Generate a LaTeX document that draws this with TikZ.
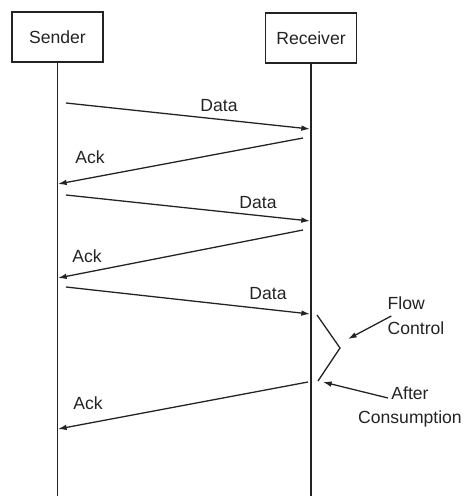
\documentclass[tikz,border=0pt]{standalone}
\usepackage{fontspec}
\setmainfont{Liberation Sans}
\usetikzlibrary{arrows.meta,positioning}
\definecolor{ink}{RGB}{35,35,35}
\tikzset{
  >={Latex[length=2.6mm,width=1.7mm]},
  actor/.style={draw=ink,line width=1pt,minimum width=2.73cm,minimum height=1.5cm,
    font=\fontsize{15}{18}\selectfont,text=ink},
  life/.style={draw=ink,line width=0.9pt},
  msg/.style={->,draw=ink,line width=1.1pt},
  lbl/.style={font=\fontsize{15}{21}\selectfont,text=ink,inner sep=1pt},
}

\begin{document}
\begin{tikzpicture}[x=0.03cm,y=-0.03cm]
  \useasboundingbox (0,0) rectangle (466,496);
  % actors and lifelines
  \node[actor] (snd) at (57.5,37) {Sender};
  \node[actor] (rcv) at (311,38) {Receiver};
  \coordinate (bot) at (0,496);
  \draw[life] (snd.south) -- (snd.south |- bot);
  \draw[life] (rcv.south) -- (rcv.south |- bot);
  % message ends
  \coordinate (d1) at (66,103);  \coordinate (r1) at (310,129);
  \coordinate (a1) at (303,138); \coordinate (s1) at (58,184);
  \coordinate (d2) at (66,195);  \coordinate (r2) at (310,221);
  \coordinate (a2) at (303,230); \coordinate (s2) at (58,278);
  \coordinate (d3) at (66,287);  \coordinate (r3) at (310,314);
  \coordinate (a3) at (308,382); \coordinate (s3) at (58,429);
  % messages
  \draw[msg] (d1) -- (r1);
  \draw[msg] (a1) -- (s1);
  \draw[msg] (d2) -- (r2);
  \draw[msg] (a2) -- (s2);
  \draw[msg] (d3) -- (r3);
  \draw[msg] (a3) -- (s3);
  \node[lbl] (data1) at (219,106) {Data};
  \node[lbl] (ack1) at (90,157) {Ack};
  \node[lbl] (data2) at (258,203) {Data};
  \node[lbl] (ack2) at (87,256) {Ack};
  \node[lbl] (data3) at (268,294) {Data};
  \node[lbl] (ack3) at (88,403) {Ack};
  % flow control bracket
  \coordinate (fc1) at (317,315);
  \coordinate (fc2) at (340,348);
  \coordinate (fc3) at (318,381);
  \draw[draw=ink,line width=1.1pt] (fc1) -- (fc2) -- (fc3);
  \node[lbl,align=left] (flow) at (416,316) {Flow\\Control};
  \node[lbl,align=center] (after) at (410,407) {After\\Consumption};
  \coordinate (fchead) at (348,339);
  \coordinate (actail) at (388,398);
  \coordinate (achead) at (323,382);
  \draw[msg] ([xshift=0.15cm]flow.west) -- (fchead);
  \draw[msg] (actail) -- (achead);
\end{tikzpicture}
\end{document}
